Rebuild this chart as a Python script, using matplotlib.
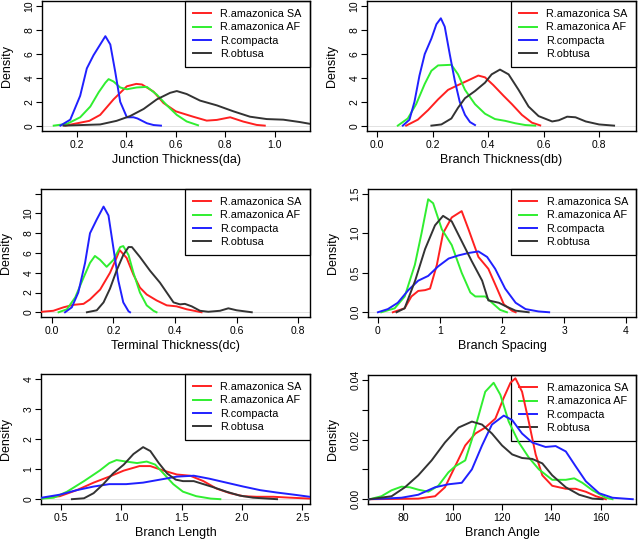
import matplotlib
matplotlib.use("Agg")
import matplotlib.pyplot as plt

plt.rcParams['font.family'] = ['Liberation Sans', 'DejaVu Sans']

names = ["R.amazonica SA", "R.amazonica AF", "R.compacta", "R.obtusa"]
colors = ["#FF2020", "#30EE30", "#2020FF", "#333333"]

# Junction Thickness(da)
jt_sa_x = [0.153, 0.25, 0.294, 0.348, 0.402, 0.44, 0.463, 0.51, 0.55, 0.60, 0.67, 0.725, 0.766, 0.82, 0.873, 0.927, 0.96]
jt_sa_y = [0, 0.4, 0.9, 2.2, 3.3, 3.5, 3.45, 2.85, 1.9, 1.2, 0.75, 0.42, 0.48, 0.7, 0.34, 0.06, 0]
jt_af_x = [0.106, 0.16, 0.213, 0.254, 0.288, 0.315, 0.328, 0.348, 0.375, 0.402, 0.442, 0.483, 0.523, 0.564, 0.604, 0.644, 0.69]
jt_af_y = [0, 0.15, 0.7, 1.6, 2.8, 3.6, 3.9, 3.7, 3.2, 3.05, 3.2, 3.25, 2.6, 1.7, 0.9, 0.35, 0.03]
jt_co_x = [0.133, 0.173, 0.213, 0.24, 0.267, 0.288, 0.315, 0.335, 0.355, 0.375, 0.402, 0.429, 0.445, 0.483, 0.51, 0.54]
jt_co_y = [0, 0.5, 2.5, 4.8, 5.9, 6.6, 7.5, 6.8, 4.5, 2.0, 0.7, 0.7, 0.6, 0.2, 0.05, 0]
jt_ob_x = [0.146, 0.294, 0.36, 0.415, 0.47, 0.523, 0.577, 0.604, 0.644, 0.698, 0.766, 0.833, 0.9, 0.968, 1.035, 1.102, 1.143]
jt_ob_y = [0, 0.1, 0.4, 0.8, 1.4, 2.2, 2.75, 2.9, 2.65, 2.1, 1.7, 1.2, 0.75, 0.55, 0.5, 0.3, 0.15]

# Branch Thickness(db)
bt_sa_x = [0.105, 0.147, 0.184, 0.22, 0.256, 0.292, 0.329, 0.365, 0.389, 0.419, 0.456, 0.486, 0.522, 0.558, 0.588]
bt_sa_y = [0, 0.5, 1.3, 2.2, 3.0, 3.4, 3.8, 4.2, 4.05, 3.4, 2.5, 1.8, 0.9, 0.25, 0.02]
bt_af_x = [0.075, 0.111, 0.141, 0.172, 0.196, 0.22, 0.268, 0.292, 0.317, 0.353, 0.389, 0.425, 0.462, 0.498, 0.534, 0.57]
bt_af_y = [0, 0.6, 1.8, 3.5, 4.6, 5.05, 5.1, 4.3, 3.0, 1.8, 1.0, 0.55, 0.4, 0.2, 0.05, 0]
bt_co_x = [0.093, 0.117, 0.135, 0.153, 0.172, 0.196, 0.214, 0.23, 0.244, 0.262, 0.28, 0.298, 0.317, 0.335, 0.353]
bt_co_y = [0, 0.5, 2.0, 4.2, 6.0, 7.3, 8.5, 9.0, 8.3, 6.0, 3.8, 2.0, 0.9, 0.3, 0.05]
bt_ob_x = [0.196, 0.232, 0.268, 0.292, 0.317, 0.353, 0.389, 0.413, 0.443, 0.474, 0.51, 0.546, 0.582, 0.631, 0.655, 0.685, 0.715, 0.752, 0.8, 0.854]
bt_ob_y = [0, 0.1, 0.6, 1.5, 2.3, 2.9, 3.6, 4.3, 4.7, 4.3, 3.0, 1.6, 0.8, 0.35, 0.45, 0.75, 0.7, 0.35, 0.1, 0]

# Terminal Thickness(dc)
tt_sa_x = [-0.032, 0.005, 0.038, 0.07, 0.103, 0.124, 0.157, 0.189, 0.21, 0.22, 0.243, 0.265, 0.286, 0.308, 0.34, 0.373, 0.405, 0.438, 0.47, 0.486]
tt_sa_y = [0.05, 0.15, 0.5, 0.75, 0.85, 1.3, 2.3, 4.0, 5.5, 6.3, 5.5, 3.8, 2.5, 1.8, 1.2, 0.7, 0.6, 0.3, 0.1, 0]
tt_af_x = [0.022, 0.049, 0.076, 0.103, 0.124, 0.14, 0.157, 0.178, 0.2, 0.222, 0.232, 0.249, 0.265, 0.286, 0.308, 0.33, 0.34]
tt_af_y = [0, 0.3, 1.5, 3.5, 5.0, 5.7, 5.3, 4.6, 5.3, 6.6, 6.7, 5.8, 4.0, 2.0, 0.7, 0.15, 0]
tt_co_x = [0.043, 0.065, 0.086, 0.108, 0.124, 0.146, 0.168, 0.184, 0.2, 0.216, 0.232, 0.249, 0.254]
tt_co_y = [0, 0.5, 2.0, 5.0, 8.0, 9.4, 10.7, 9.8, 6.5, 3.2, 1.0, 0.1, 0]
tt_ob_x = [0.114, 0.146, 0.168, 0.189, 0.21, 0.232, 0.249, 0.26, 0.286, 0.319, 0.351, 0.373, 0.395, 0.416, 0.432, 0.454, 0.481, 0.508, 0.546, 0.573, 0.6, 0.649]
tt_ob_y = [0, 0.2, 1.0, 2.4, 4.2, 5.8, 6.6, 6.6, 5.6, 4.2, 3.0, 2.0, 1.0, 0.8, 0.85, 0.6, 0.15, 0.05, 0.15, 0.4, 0.2, 0]

# Branch Spacing
bs_sa_x = [0.24, 0.43, 0.54, 0.65, 0.76, 0.84, 0.95, 1.05, 1.19, 1.35, 1.46, 1.62, 1.78, 1.92, 2.03, 2.16, 2.22]
bs_sa_y = [0, 0.05, 0.2, 0.27, 0.28, 0.3, 0.6, 1.0, 1.2, 1.28, 1.05, 0.7, 0.55, 0.3, 0.1, 0.02, 0]
bs_af_x = [0.054, 0.27, 0.432, 0.595, 0.703, 0.81, 0.89, 1.03, 1.19, 1.35, 1.49, 1.57, 1.73, 1.84, 1.97, 2.08]
bs_af_y = [0, 0.05, 0.2, 0.6, 1.0, 1.43, 1.38, 1.05, 0.85, 0.5, 0.25, 0.2, 0.2, 0.12, 0.03, 0]
bs_co_x = [0.0, 0.16, 0.32, 0.49, 0.65, 0.81, 0.97, 1.14, 1.3, 1.46, 1.62, 1.76, 1.89, 2.05, 2.22, 2.38, 2.59, 2.76]
bs_co_y = [0, 0.04, 0.12, 0.28, 0.4, 0.46, 0.58, 0.68, 0.72, 0.75, 0.77, 0.7, 0.55, 0.3, 0.12, 0.04, 0.01, 0]
bs_ob_x = [0.3, 0.43, 0.6, 0.76, 0.92, 1.05, 1.19, 1.35, 1.51, 1.68, 1.78, 1.95, 2.05, 2.22, 2.43]
bs_ob_y = [0, 0.05, 0.4, 0.8, 1.1, 1.22, 1.15, 0.9, 0.65, 0.4, 0.15, 0.12, 0.08, 0.02, 0]

# Branch Length
bl_sa_x = [0.34, 0.49, 0.63, 0.77, 0.9, 1.02, 1.15, 1.24, 1.35, 1.46, 1.57, 1.68, 1.79, 1.9, 2.01, 2.12, 2.26, 2.4, 2.56]
bl_sa_y = [0.03, 0.1, 0.3, 0.55, 0.75, 0.95, 1.1, 1.1, 0.95, 0.82, 0.78, 0.6, 0.35, 0.2, 0.1, 0.08, 0.08, 0.05, 0.02]
bl_af_x = [0.34, 0.44, 0.55, 0.69, 0.82, 0.9, 0.96, 1.04, 1.13, 1.21, 1.28, 1.35, 1.43, 1.51, 1.62, 1.74, 1.82]
bl_af_y = [0.02, 0.05, 0.25, 0.6, 0.95, 1.2, 1.3, 1.25, 1.2, 1.25, 1.15, 0.85, 0.5, 0.25, 0.1, 0.02, 0]
bl_co_x = [0.34, 0.49, 0.63, 0.77, 0.9, 1.04, 1.18, 1.32, 1.46, 1.6, 1.73, 1.87, 2.01, 2.15, 2.29, 2.43, 2.56]
bl_co_y = [0.05, 0.15, 0.3, 0.42, 0.5, 0.5, 0.55, 0.65, 0.75, 0.78, 0.68, 0.55, 0.42, 0.3, 0.22, 0.15, 0.08]
bl_ob_x = [0.59, 0.69, 0.77, 0.85, 0.93, 1.02, 1.1, 1.18, 1.24, 1.31, 1.38, 1.45, 1.51, 1.6, 1.68, 1.76, 1.87, 1.98, 2.09, 2.29]
bl_ob_y = [0, 0.03, 0.2, 0.5, 0.85, 1.15, 1.5, 1.73, 1.6, 1.2, 0.85, 0.65, 0.6, 0.6, 0.5, 0.4, 0.25, 0.12, 0.05, 0]

# Branch Angle
ba_sa_x = [66.4, 86.1, 92.9, 96.9, 101.0, 105.1, 109.2, 113.2, 117.3, 120.7, 123.4, 125.4, 128.1, 130.8, 133.6, 136.3, 140.3, 145.8, 149.8, 153.9, 158.0, 162.0]
ba_sa_y = [0, 0.0002, 0.001, 0.004, 0.011, 0.018, 0.022, 0.024, 0.027, 0.034, 0.039, 0.0405, 0.036, 0.026, 0.015, 0.008, 0.0045, 0.0035, 0.0035, 0.0025, 0.001, 0]
ba_af_x = [66.4, 71.2, 75.3, 79.3, 82.7, 86.1, 90.2, 94.2, 98.3, 101.0, 105.1, 107.8, 110.5, 113.2, 116.6, 119.3, 122.7, 126.8, 130.8, 134.9, 140.3, 145.8, 149.2, 152.5, 156.6, 162.0, 164.7]
ba_af_y = [0, 0.001, 0.003, 0.0042, 0.004, 0.0032, 0.0025, 0.0045, 0.009, 0.011, 0.013, 0.02, 0.028, 0.036, 0.039, 0.035, 0.026, 0.019, 0.014, 0.01, 0.0065, 0.0065, 0.007, 0.0055, 0.003, 0.0005, 0]
ba_co_x = [66.4, 79.3, 86.1, 92.9, 98.3, 103.7, 107.8, 111.9, 115.9, 120.7, 124.1, 128.1, 132.2, 137.6, 141.7, 145.8, 149.8, 153.9, 159.3, 164.7, 172.9]
ba_co_y = [0, 0.0005, 0.0015, 0.004, 0.005, 0.0055, 0.01, 0.018, 0.025, 0.028, 0.0265, 0.022, 0.019, 0.0175, 0.0178, 0.016, 0.011, 0.006, 0.002, 0.0005, 0]
ba_ob_x = [66.4, 75.3, 80.7, 86.1, 91.5, 96.9, 102.4, 107.8, 111.9, 115.9, 120.0, 124.1, 128.1, 132.2, 136.3, 140.3, 145.8, 151.2, 156.6, 160.7]
ba_ob_y = [0, 0.001, 0.004, 0.008, 0.013, 0.019, 0.024, 0.026, 0.025, 0.022, 0.018, 0.015, 0.0138, 0.0135, 0.012, 0.008, 0.004, 0.0015, 0.0002, 0]

W, H = 638, 548
fig = plt.figure(figsize=(W / 100, H / 100), dpi=100)


def box(l, t, r, b):
    return [l / W, (H - b) / H, (r - l) / W, (b - t) / H]


def panel(rect, curves, xlab, xlim, ylim, xticks, xtl, yticks, ytl):
    ax = fig.add_axes(box(*rect))
    ax.axhline(0, color="#dddddd", lw=0.6, zorder=1)
    for (x, y), c, n in zip(curves, colors, names):
        ax.plot(x, y, color=c, lw=1.4, label=n, zorder=3)
    ax.set_xlim(*xlim)
    ax.set_ylim(*ylim)
    ax.set_xticks(xticks)
    ax.set_xticklabels(xtl)
    ax.set_yticks(yticks)
    ax.set_yticklabels(ytl, rotation=90, rotation_mode="anchor", ha="center", va="bottom")
    ax.tick_params(direction="out", length=4, width=0.8, labelsize=7.5)
    ax.tick_params(axis="x", pad=2.5)
    ax.tick_params(axis="y", pad=1.5)
    for s in ax.spines.values():
        s.set_linewidth(1.0)
    ax.set_xlabel(xlab, fontsize=9, labelpad=3)
    ax.set_ylabel("Density", fontsize=9, labelpad=8)
    leg = ax.legend(loc="upper right", fontsize=7.8, frameon=True, fancybox=False,
                    borderaxespad=0, borderpad=0.75, labelspacing=0.3,
                    handlelength=1.65, handletextpad=0.85, framealpha=1)
    leg.get_frame().set_facecolor("none")
    leg.get_frame().set_edgecolor("black")
    leg.get_frame().set_linewidth(0.9)
    leg.set_zorder(2)
    return ax


panel((42, 1, 310, 131),
      [(jt_sa_x, jt_sa_y), (jt_af_x, jt_af_y), (jt_co_x, jt_co_y), (jt_ob_x, jt_ob_y)],
      "Junction Thickness(da)", (0.0586, 1.143), (-0.45, 10.45),
      [0.2, 0.4, 0.6, 0.8, 1.0], ["0.2", "0.4", "0.6", "0.8", "1.0"],
      [0, 2, 4, 6, 8, 10], ["0", "2", "4", "6", "8", "10"])

panel((367, 1, 636, 131),
      [(bt_sa_x, bt_sa_y), (bt_af_x, bt_af_y), (bt_co_x, bt_co_y), (bt_ob_x, bt_ob_y)],
      "Branch Thickness(db)", (-0.036, 0.933), (-0.45, 10.45),
      [0.0, 0.2, 0.4, 0.6, 0.8], ["0.0", "0.2", "0.4", "0.6", "0.8"],
      [0, 2, 4, 6, 8, 10], ["0", "2", "4", "6", "8", "10"])

panel((41, 189, 310, 317),
      [(tt_sa_x, tt_sa_y), (tt_af_x, tt_af_y), (tt_co_x, tt_co_y), (tt_ob_x, tt_ob_y)],
      "Terminal Thickness(dc)", (-0.035, 0.838), (-0.48, 12.48),
      [0.0, 0.2, 0.4, 0.6, 0.8], ["0.0", "0.2", "0.4", "0.6", "0.8"],
      [0, 2, 4, 6, 8, 10, 12], ["0", "2", "4", "6", "8", "10", ""])

panel((368, 189, 636, 317),
      [(bs_sa_x, bs_sa_y), (bs_af_x, bs_af_y), (bs_co_x, bs_co_y), (bs_ob_x, bs_ob_y)],
      "Branch Spacing", (-0.16, 4.16), (-0.06, 1.56),
      [0, 1, 2, 3, 4], ["0", "1", "2", "3", "4"],
      [0.0, 0.5, 1.0, 1.5], ["0.0", "0.5", "1.0", "1.5"])

panel((41, 374, 310, 504),
      [(bl_sa_x, bl_sa_y), (bl_af_x, bl_af_y), (bl_co_x, bl_co_y), (bl_ob_x, bl_ob_y)],
      "Branch Length", (0.334, 2.563), (-0.16, 4.16),
      [0.5, 1.0, 1.5, 2.0, 2.5], ["0.5", "1.0", "1.5", "2.0", "2.5"],
      [0, 1, 2, 3, 4], ["0", "1", "2", "3", "4"])

panel((368, 375, 636, 504),
      [(ba_sa_x, ba_sa_y), (ba_af_x, ba_af_y), (ba_co_x, ba_co_y), (ba_ob_x, ba_ob_y)],
      "Branch Angle", (65.76, 174.2), (-0.0016, 0.0416),
      [80, 100, 120, 140, 160], ["80", "100", "120", "140", "160"],
      [0.0, 0.01, 0.02, 0.03, 0.04], ["0.00", "", "0.02", "", "0.04"])

fig.savefig("out.png", dpi=100)
